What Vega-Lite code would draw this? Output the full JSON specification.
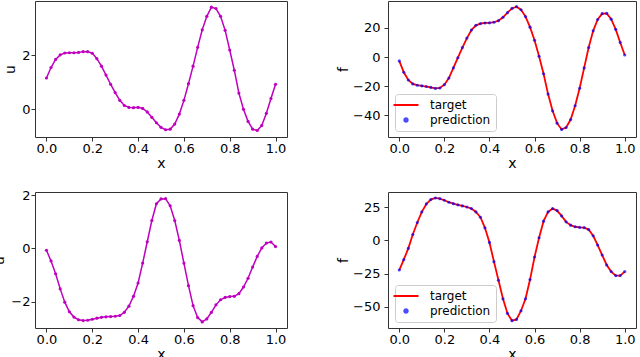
{
  "$schema": "https://vega.github.io/schema/vega-lite/v6.json",
  "autosize": "none",
  "padding": {"left": 35, "top": 1, "right": 605, "bottom": 356},
  "background": "white",
  "bounds": "flush",
  "columns": 2,
  "spacing": {"row": 55, "column": 101},
  "resolve": {"scale": {"color": "independent"}, "legend": {"color": "independent"}},
  "data": {"values": [
    {"x": 0.00, "u1": 1.16, "f1": -2.7, "u2": -0.07, "f2": -22.3},
    {"x": 0.02, "u1": 1.55, "f1": -10.5, "u2": -0.47, "f2": -14.5},
    {"x": 0.04, "u1": 1.85, "f1": -15.8, "u2": -0.95, "f2": -6.0},
    {"x": 0.06, "u1": 2.02, "f1": -18.5, "u2": -1.52, "f2": 4.5},
    {"x": 0.08, "u1": 2.09, "f1": -19.4, "u2": -2.02, "f2": 13.5},
    {"x": 0.10, "u1": 2.10, "f1": -19.8, "u2": -2.38, "f2": 21.5},
    {"x": 0.12, "u1": 2.10, "f1": -20.3, "u2": -2.58, "f2": 27.5},
    {"x": 0.14, "u1": 2.11, "f1": -20.9, "u2": -2.68, "f2": 30.8},
    {"x": 0.16, "u1": 2.14, "f1": -21.6, "u2": -2.71, "f2": 32.0},
    {"x": 0.18, "u1": 2.14, "f1": -21.3, "u2": -2.70, "f2": 31.5},
    {"x": 0.20, "u1": 2.08, "f1": -19.0, "u2": -2.66, "f2": 30.3},
    {"x": 0.22, "u1": 1.88, "f1": -14.5, "u2": -2.62, "f2": 28.8},
    {"x": 0.24, "u1": 1.60, "f1": -7.5, "u2": -2.59, "f2": 27.7},
    {"x": 0.26, "u1": 1.27, "f1": -0.5, "u2": -2.57, "f2": 26.8},
    {"x": 0.28, "u1": 0.93, "f1": 6.5, "u2": -2.56, "f2": 26.0},
    {"x": 0.30, "u1": 0.62, "f1": 13.0, "u2": -2.55, "f2": 25.2},
    {"x": 0.32, "u1": 0.33, "f1": 18.5, "u2": -2.52, "f2": 24.0},
    {"x": 0.34, "u1": 0.14, "f1": 21.8, "u2": -2.40, "f2": 21.5},
    {"x": 0.36, "u1": 0.07, "f1": 23.0, "u2": -2.17, "f2": 17.5},
    {"x": 0.38, "u1": 0.06, "f1": 23.4, "u2": -1.80, "f2": 9.5},
    {"x": 0.40, "u1": 0.07, "f1": 23.5, "u2": -1.30, "f2": -1.5},
    {"x": 0.42, "u1": 0.03, "f1": 23.9, "u2": -0.55, "f2": -16.0},
    {"x": 0.44, "u1": -0.10, "f1": 25.0, "u2": 0.25, "f2": -30.0},
    {"x": 0.46, "u1": -0.30, "f1": 27.3, "u2": 1.05, "f2": -44.0},
    {"x": 0.48, "u1": -0.50, "f1": 30.5, "u2": 1.68, "f2": -55.0},
    {"x": 0.50, "u1": -0.67, "f1": 33.4, "u2": 1.86, "f2": -60.5},
    {"x": 0.52, "u1": -0.76, "f1": 34.6, "u2": 1.87, "f2": -59.5},
    {"x": 0.54, "u1": -0.74, "f1": 32.5, "u2": 1.60, "f2": -53.0},
    {"x": 0.56, "u1": -0.55, "f1": 27.8, "u2": 1.05, "f2": -44.0},
    {"x": 0.58, "u1": -0.18, "f1": 20.5, "u2": 0.30, "f2": -29.5},
    {"x": 0.60, "u1": 0.33, "f1": 11.5, "u2": -0.55, "f2": -12.5},
    {"x": 0.62, "u1": 0.95, "f1": 0.5, "u2": -1.40, "f2": 2.0},
    {"x": 0.64, "u1": 1.60, "f1": -11.5, "u2": -2.15, "f2": 14.5},
    {"x": 0.66, "u1": 2.30, "f1": -25.5, "u2": -2.60, "f2": 21.5},
    {"x": 0.68, "u1": 2.95, "f1": -37.0, "u2": -2.76, "f2": 24.0},
    {"x": 0.70, "u1": 3.45, "f1": -45.5, "u2": -2.65, "f2": 22.5},
    {"x": 0.72, "u1": 3.79, "f1": -49.8, "u2": -2.40, "f2": 18.5},
    {"x": 0.74, "u1": 3.74, "f1": -48.5, "u2": -2.12, "f2": 14.0},
    {"x": 0.76, "u1": 3.45, "f1": -43.0, "u2": -1.93, "f2": 11.5},
    {"x": 0.78, "u1": 2.93, "f1": -33.5, "u2": -1.84, "f2": 10.3},
    {"x": 0.80, "u1": 2.20, "f1": -21.5, "u2": -1.81, "f2": 9.8},
    {"x": 0.82, "u1": 1.45, "f1": -7.5, "u2": -1.80, "f2": 9.6},
    {"x": 0.84, "u1": 0.60, "f1": 6.5, "u2": -1.70, "f2": 8.2},
    {"x": 0.86, "u1": 0.00, "f1": 18.0, "u2": -1.45, "f2": 3.5},
    {"x": 0.88, "u1": -0.45, "f1": 25.8, "u2": -1.12, "f2": -3.5},
    {"x": 0.90, "u1": -0.74, "f1": 29.8, "u2": -0.70, "f2": -11.0},
    {"x": 0.92, "u1": -0.79, "f1": 30.0, "u2": -0.30, "f2": -18.5},
    {"x": 0.94, "u1": -0.60, "f1": 26.0, "u2": 0.02, "f2": -23.5},
    {"x": 0.96, "u1": -0.15, "f1": 19.0, "u2": 0.20, "f2": -26.5},
    {"x": 0.98, "u1": 0.40, "f1": 10.0, "u2": 0.24, "f2": -26.5},
    {"x": 1.00, "u1": 0.93, "f1": 1.4, "u2": 0.07, "f2": -23.5}
  ]},
  "concat": [
    {
      "width": 252, "height": 136,
      "mark": {"type": "line", "color": "#bf00bf", "strokeWidth": 1.5, "point": {"filled": true, "size": 10, "color": "#bf00bf"}},
      "encoding": {
        "x": {"field": "x", "type": "quantitative", "scale": {"domain": [-0.05, 1.05], "nice": false, "zero": false}, "axis": {"values": [0, 0.2, 0.4, 0.6, 0.8, 1], "format": ".1f", "title": "x"}},
        "y": {"field": "u1", "type": "quantitative", "scale": {"domain": [-1.03, 4.02], "nice": false, "zero": false}, "axis": {"values": [0, 2], "title": "u", "labelPadding": 1, "titlePadding": 4}}
      }
    },
    {
      "width": 248, "height": 136,
      "encoding": {
        "x": {"field": "x", "type": "quantitative", "scale": {"domain": [-0.05, 1.05], "nice": false, "zero": false}, "axis": {"values": [0, 0.2, 0.4, 0.6, 0.8, 1], "format": ".1f", "title": "x"}},
        "y": {"field": "f1", "type": "quantitative", "scale": {"domain": [-55, 38.5], "nice": false, "zero": false}, "axis": {"values": [-40, -20, 0, 20], "title": "f", "labelPadding": 4, "titlePadding": 2}}
      },
      "layer": [
        {"mark": {"type": "line", "strokeWidth": 1.8}, "encoding": {"color": {"datum": "target", "type": "nominal", "scale": {"domain": ["target", "prediction"], "range": ["#ff0000", "#0000ff"]},
          "legend": {"title": null, "orient": "none", "legendX": 7, "legendY": 93, "padding": 5, "strokeColor": "#cccccc", "fillColor": "rgba(255,255,255,0.8)", "cornerRadius": 3, "labelFontSize": 12, "labelFont": "DejaVu Sans", "labelColor": "#000000", "symbolSize": 625, "labelOffset": 18, "rowPadding": 3,
            "encode": {"symbols": {"update": {"shape": {"signal": "datum.value === 'target' ? 'stroke' : 'circle'"}, "size": {"signal": "datum.value === 'target' ? 625 : 12"}, "stroke": {"signal": "datum.value === 'target' ? '#ff0000' : 'transparent'"}, "fill": {"signal": "datum.value === 'target' ? 'transparent' : '#0000ff'"}, "strokeWidth": {"value": 2}, "opacity": {"signal": "datum.value === 'target' ? 1 : 0.7"}}}}}}}},
        {"mark": {"type": "point", "filled": true, "size": 10, "opacity": 0.7}, "encoding": {"color": {"datum": "prediction", "type": "nominal"}}}
      ]
    },
    {
      "width": 252, "height": 136,
      "mark": {"type": "line", "color": "#bf00bf", "strokeWidth": 1.5, "point": {"filled": true, "size": 10, "color": "#bf00bf"}},
      "encoding": {
        "x": {"field": "x", "type": "quantitative", "scale": {"domain": [-0.05, 1.05], "nice": false, "zero": false}, "axis": {"values": [0, 0.2, 0.4, 0.6, 0.8, 1], "format": ".1f", "title": "x"}},
        "y": {"field": "u2", "type": "quantitative", "scale": {"domain": [-2.99, 2.12], "nice": false, "zero": false}, "axis": {"values": [-2, 0, 2], "title": "u", "labelPadding": 1, "titlePadding": 4}}
      }
    },
    {
      "width": 248, "height": 136,
      "encoding": {
        "x": {"field": "x", "type": "quantitative", "scale": {"domain": [-0.05, 1.05], "nice": false, "zero": false}, "axis": {"values": [0, 0.2, 0.4, 0.6, 0.8, 1], "format": ".1f", "title": "x"}},
        "y": {"field": "f2", "type": "quantitative", "scale": {"domain": [-66, 36.5], "nice": false, "zero": false}, "axis": {"values": [-50, -25, 0, 25], "title": "f", "labelPadding": 4, "titlePadding": 2}}
      },
      "layer": [
        {"mark": {"type": "line", "strokeWidth": 1.8}, "encoding": {"color": {"datum": "target", "type": "nominal", "scale": {"domain": ["target", "prediction"], "range": ["#ff0000", "#0000ff"]},
          "legend": {"title": null, "orient": "none", "legendX": 7, "legendY": 93, "padding": 5, "strokeColor": "#cccccc", "fillColor": "rgba(255,255,255,0.8)", "cornerRadius": 3, "labelFontSize": 12, "labelFont": "DejaVu Sans", "labelColor": "#000000", "symbolSize": 625, "labelOffset": 18, "rowPadding": 3,
            "encode": {"symbols": {"update": {"shape": {"signal": "datum.value === 'target' ? 'stroke' : 'circle'"}, "size": {"signal": "datum.value === 'target' ? 625 : 12"}, "stroke": {"signal": "datum.value === 'target' ? '#ff0000' : 'transparent'"}, "fill": {"signal": "datum.value === 'target' ? 'transparent' : '#0000ff'"}, "strokeWidth": {"value": 2}, "opacity": {"signal": "datum.value === 'target' ? 1 : 0.7"}}}}}}}},
        {"mark": {"type": "point", "filled": true, "size": 10, "opacity": 0.7}, "encoding": {"color": {"datum": "prediction", "type": "nominal"}}}
      ]
    }
  ],
  "config": {
    "font": "DejaVu Sans",
    "view": {"stroke": "#333333", "strokeWidth": 1},
    "axis": {"grid": false, "domain": false, "tickColor": "#333333", "tickSize": 4, "tickWidth": 1, "labelFontSize": 13, "labelColor": "#000000", "labelFont": "DejaVu Sans", "titleFont": "DejaVu Sans", "titleFontSize": 14, "titleFontWeight": "normal", "titleColor": "#000000", "labelFlush": false, "labelOverlap": false},
    "axisX": {"labelPadding": 1, "titlePadding": 1}
  }
}
